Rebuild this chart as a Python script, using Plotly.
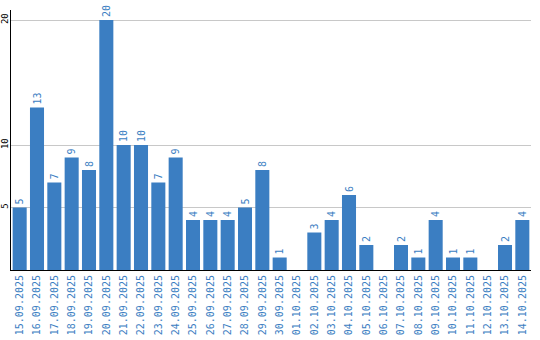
import plotly.graph_objects as go

dates = ["15.09.2025", "16.09.2025", "17.09.2025", "18.09.2025", "19.09.2025",
         "20.09.2025", "21.09.2025", "22.09.2025", "23.09.2025", "24.09.2025",
         "25.09.2025", "26.09.2025", "27.09.2025", "28.09.2025", "29.09.2025",
         "30.09.2025", "01.10.2025", "02.10.2025", "03.10.2025", "04.10.2025",
         "05.10.2025", "06.10.2025", "07.10.2025", "08.10.2025", "09.10.2025",
         "10.10.2025", "11.10.2025", "12.10.2025", "13.10.2025", "14.10.2025"]
counts = [5, 13, 7, 9, 8, 20, 10, 10, 7, 9, 4, 4, 4, 5, 8, 1, 0, 3, 4, 6,
          2, 0, 2, 1, 4, 1, 1, 0, 2, 4]
y_ticks = [5, 10, 20]

blue = "#3b7ec2"
font_family = "DejaVu Sans Mono"

labels = [str(v) if v else "" for v in counts]

fig = go.Figure(go.Bar(
    x=dates, y=counts, text=labels,
    textposition="outside", textangle=-90,
    textfont=dict(family=font_family, size=10, color=blue),
    constraintext="none", cliponaxis=False,
    marker=dict(color=blue, line=dict(width=0)),
    hoverinfo="skip",
))

fig.update_layout(
    width=540, height=340,
    margin=dict(l=11, r=9, t=10, b=70, autoexpand=False),
    paper_bgcolor="white", plot_bgcolor="white",
    bargap=0.19,
    showlegend=False,
    font=dict(family=font_family, size=10, color="black"),
)
fig.update_xaxes(
    type="category", tickangle=-90, automargin=False,
    tickfont=dict(family=font_family, size=10, color=blue),
    showline=True, linecolor="black", linewidth=1,
    showgrid=False, ticks="", ticklen=0,
)
fig.update_yaxes(
    range=[0, 20.8], tickvals=y_ticks, tickangle=-90, automargin=False,
    tickfont=dict(family=font_family, size=9, color="black"),
    ticklabelstandoff=-2,
    showline=True, linecolor="black", linewidth=1,
    showgrid=True, gridcolor="#c8c8c8", gridwidth=1,
    zeroline=False, ticks="", ticklen=0,
)

fig.write_html("out.html")
